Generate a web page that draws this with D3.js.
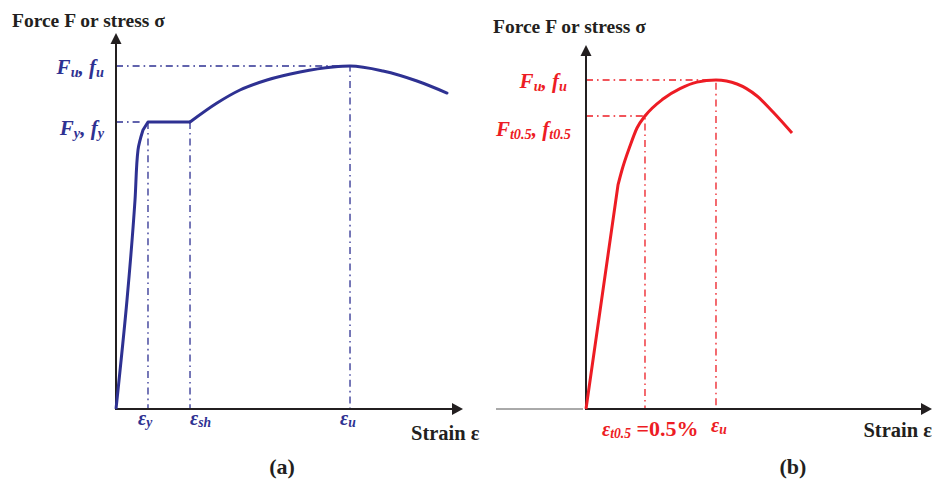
<!DOCTYPE html>
<html>
<head>
<meta charset="utf-8">
<script src="https://cdn.jsdelivr.net/npm/d3@7/dist/d3.min.js"></script>
<style>
  html, body { margin: 0; padding: 0; background: #fff; }
  svg { display: block; }
  text { font-family: "Liberation Serif", "Times New Roman", serif; font-weight: bold; }
</style>
</head>
<body>
<svg id="chart" width="932" height="481"></svg>
<script>
// ---------- Data (strain, stress in relative units, 0-100 of the axis length) ----------
// Panel (a): steel with yield plateau
const strainA = [0, 3.17, 5.48, 6.34, 7.78, 9.22, 21.33, 29.11, 35.73, 43.52, 53.03, 62.54, 67.44, 76.95, 86.74, 95.39];
const stressA = [0, 28.99, 55.59, 68.88, 74.20, 76.33, 76.33, 81.38, 84.84, 87.50, 89.63, 90.96, 91.22, 89.89, 87.23, 84.04];
const plateauEndIndexA = 6;
const markersStrainA = { ey: 9.22, esh: 21.33, eu: 67.44 };
const markersStressA = { fy: 76.33, fu: 91.22 };

// Panel (b): steel without yield plateau
const strainB = [0, 9.25, 10.40, 12.72, 14.74, 17.05, 22.25, 27.17, 32.08, 37.57, 43.64, 49.42, 54.05, 59.54];
const stressB = [0, 61.54, 65.66, 72.25, 77.20, 80.49, 85.16, 88.00, 89.80, 90.38, 89.29, 85.99, 81.59, 75.82];
const markersStrainB = { et: 17.05, eu: 37.57 };
const markersStressB = { ft: 80.49, fu: 90.38 };

const titleText = "Force F or stress σ";
const strainText = "Strain ε";
const panelLabels = ["(a)", "(b)"];

// ---------- Drawing ----------
const svg = d3.select("#chart");
const BLUE = "#2e3192", RED = "#ed1c24", INK = "#231f20";
const DASH = "7,4,1.6,4";

function arrowHeads(g, x, y) {
  const x0 = x(0), y0 = y(0), xt = x(100), yt = y(100);
  g.append("line").attr("x1", x0).attr("y1", y0).attr("x2", x0).attr("y2", yt + 8)
    .attr("stroke", INK).attr("stroke-width", 2);
  g.append("path").attr("d", d3.line()([[x0, yt], [x0 - 5.5, yt + 11], [x0 + 5.5, yt + 11]]) + "Z")
    .attr("fill", INK);
  g.append("line").attr("x1", x0 - 1).attr("y1", y0).attr("x2", xt - 8).attr("y2", y0)
    .attr("stroke", INK).attr("stroke-width", 2);
  g.append("path").attr("d", d3.line()([[xt, y0], [xt - 11, y0 - 6], [xt - 11, y0 + 6]]) + "Z")
    .attr("fill", INK);
}

function guide(g, pts, color) {
  g.append("path").attr("d", d3.line()(pts))
    .attr("fill", "none").attr("stroke", color).attr("stroke-width", 1.3)
    .attr("stroke-dasharray", DASH);
}

function subLabel(g, x, y, parts, color, size, anchor) {
  const t = g.append("text").attr("x", x).attr("y", y).attr("fill", color)
    .attr("font-size", size).attr("text-anchor", anchor || "start");
  parts.forEach(p => {
    const s = t.append("tspan").text(p.t);
    if (p.italic !== false) s.attr("font-style", "italic");
    if (p.sub) s.attr("font-size", size * 0.68).attr("dy", size * 0.12);
    else if (p.up) s.attr("dy", -size * 0.12);
    if (p.size) s.attr("font-size", p.size);
  });
  return t;
}

// ----- Panel (a)
{
  const x = d3.scaleLinear().domain([0, 100]).range([116, 463]);
  const y = d3.scaleLinear().domain([0, 100]).range([409, 33]);
  const g = svg.append("g");
  const pts = strainA.map((s, i) => [x(s), y(stressA[i])]);

  guide(g, [[x(0), y(markersStressA.fu)], [x(markersStrainA.eu), y(markersStressA.fu)], [x(markersStrainA.eu), y(0)]], BLUE);
  guide(g, [[x(0), y(markersStressA.fy)], [x(strainA[4]), y(markersStressA.fy)]], BLUE);
  guide(g, [[x(markersStrainA.ey), y(markersStressA.fy)], [x(markersStrainA.ey), y(0)]], BLUE);
  guide(g, [[x(markersStrainA.esh), y(markersStressA.fy)], [x(markersStrainA.esh), y(0)]], BLUE);

  arrowHeads(g, x, y);

  g.append("path").attr("d", d3.line().curve(d3.curveMonotoneY)(pts.slice(0, plateauEndIndexA - 1)) +
      "L" + pts.slice(plateauEndIndexA - 1, plateauEndIndexA + 1).map(p => p.join(",")).join("L"))
    .attr("fill", "none").attr("stroke", BLUE).attr("stroke-width", 3).attr("stroke-linejoin", "round");
  g.append("path").attr("d", d3.line().curve(d3.curveMonotoneX)(pts.slice(plateauEndIndexA)))
    .attr("fill", "none").attr("stroke", BLUE).attr("stroke-width", 3).attr("stroke-linecap", "round");

  g.append("text").attr("x", 12).attr("y", 27).attr("font-size", 19.5).attr("fill", INK).text(titleText);
  subLabel(g, x(0) - 12, y(markersStressA.fu) + 8, [{t: "F"}, {t: "u", sub: true}, {t: ", f", up: true}, {t: "u", sub: true}], BLUE, 21, "end");
  subLabel(g, x(0) - 12, y(markersStressA.fy) + 13, [{t: "F"}, {t: "y", sub: true}, {t: ", f", up: true}, {t: "y", sub: true}], BLUE, 21, "end");
  subLabel(g, x(markersStrainA.ey) - 10, y(0) + 16, [{t: "ε"}, {t: "y", sub: true}], BLUE, 20, "start");
  subLabel(g, x(markersStrainA.esh), y(0) + 16, [{t: "ε"}, {t: "sh", sub: true}], BLUE, 20, "start");
  subLabel(g, x(markersStrainA.eu) - 10, y(0) + 16, [{t: "ε"}, {t: "u", sub: true}], BLUE, 20, "start");
  g.append("text").attr("x", 411).attr("y", 440).attr("font-size", 20.5).attr("fill", INK).text(strainText);
  g.append("text").attr("x", 282).attr("y", 474).attr("font-size", 22).attr("fill", INK)
    .attr("text-anchor", "middle").text(panelLabels[0]);
}

// ----- Panel (b)
{
  const x = d3.scaleLinear().domain([0, 100]).range([586, 932]);
  const y = d3.scaleLinear().domain([0, 100]).range([409, 45]);
  const g = svg.append("g");
  const pts = strainB.map((s, i) => [x(s), y(stressB[i])]);

  g.append("line").attr("x1", 496).attr("x2", x(0) - 3).attr("y1", y(0)).attr("y2", y(0))
    .attr("stroke", "#555").attr("stroke-width", 1);

  guide(g, [[x(0), y(markersStressB.fu)], [x(markersStrainB.eu), y(markersStressB.fu)], [x(markersStrainB.eu), y(0)]], RED);
  guide(g, [[x(0), y(markersStressB.ft)], [x(markersStrainB.et), y(markersStressB.ft)], [x(markersStrainB.et), y(0)]], RED);

  arrowHeads(g, x, y);

  const curvePart = d3.line().curve(d3.curveMonotoneX)(pts.slice(1));
  g.append("path").attr("d", d3.line()(pts.slice(0, 2)) + curvePart.replace(/^M[^CL]*/, ""))
    .attr("fill", "none").attr("stroke", RED).attr("stroke-width", 3).attr("stroke-linejoin", "round");

  g.append("text").attr("x", 493).attr("y", 33).attr("font-size", 19.5).attr("fill", INK).text(titleText);
  subLabel(g, x(0) - 19, y(markersStressB.fu) + 8, [{t: "F"}, {t: "u", sub: true}, {t: ", f", up: true}, {t: "u", sub: true}], RED, 21, "end");
  subLabel(g, x(0) - 15, y(markersStressB.ft) + 20, [{t: "F"}, {t: "t0.5", sub: true}, {t: ", f", up: true}, {t: "t0.5", sub: true}], RED, 21, "end");
  subLabel(g, 602, y(0) + 27, [{t: "ε"}, {t: "t0.5", sub: true}, {t: " =0.5%", italic: false, up: true, size: 22}], RED, 20, "start");
  subLabel(g, x(markersStrainB.eu) - 5, y(0) + 23, [{t: "ε"}, {t: "u", sub: true}], RED, 20, "start");
  g.append("text").attr("x", 932).attr("y", 437).attr("font-size", 20.5).attr("fill", INK)
    .attr("text-anchor", "end").text(strainText);
  g.append("text").attr("x", 793).attr("y", 474).attr("font-size", 22).attr("fill", INK)
    .attr("text-anchor", "middle").text(panelLabels[1]);
}
</script>
</body>
</html>
